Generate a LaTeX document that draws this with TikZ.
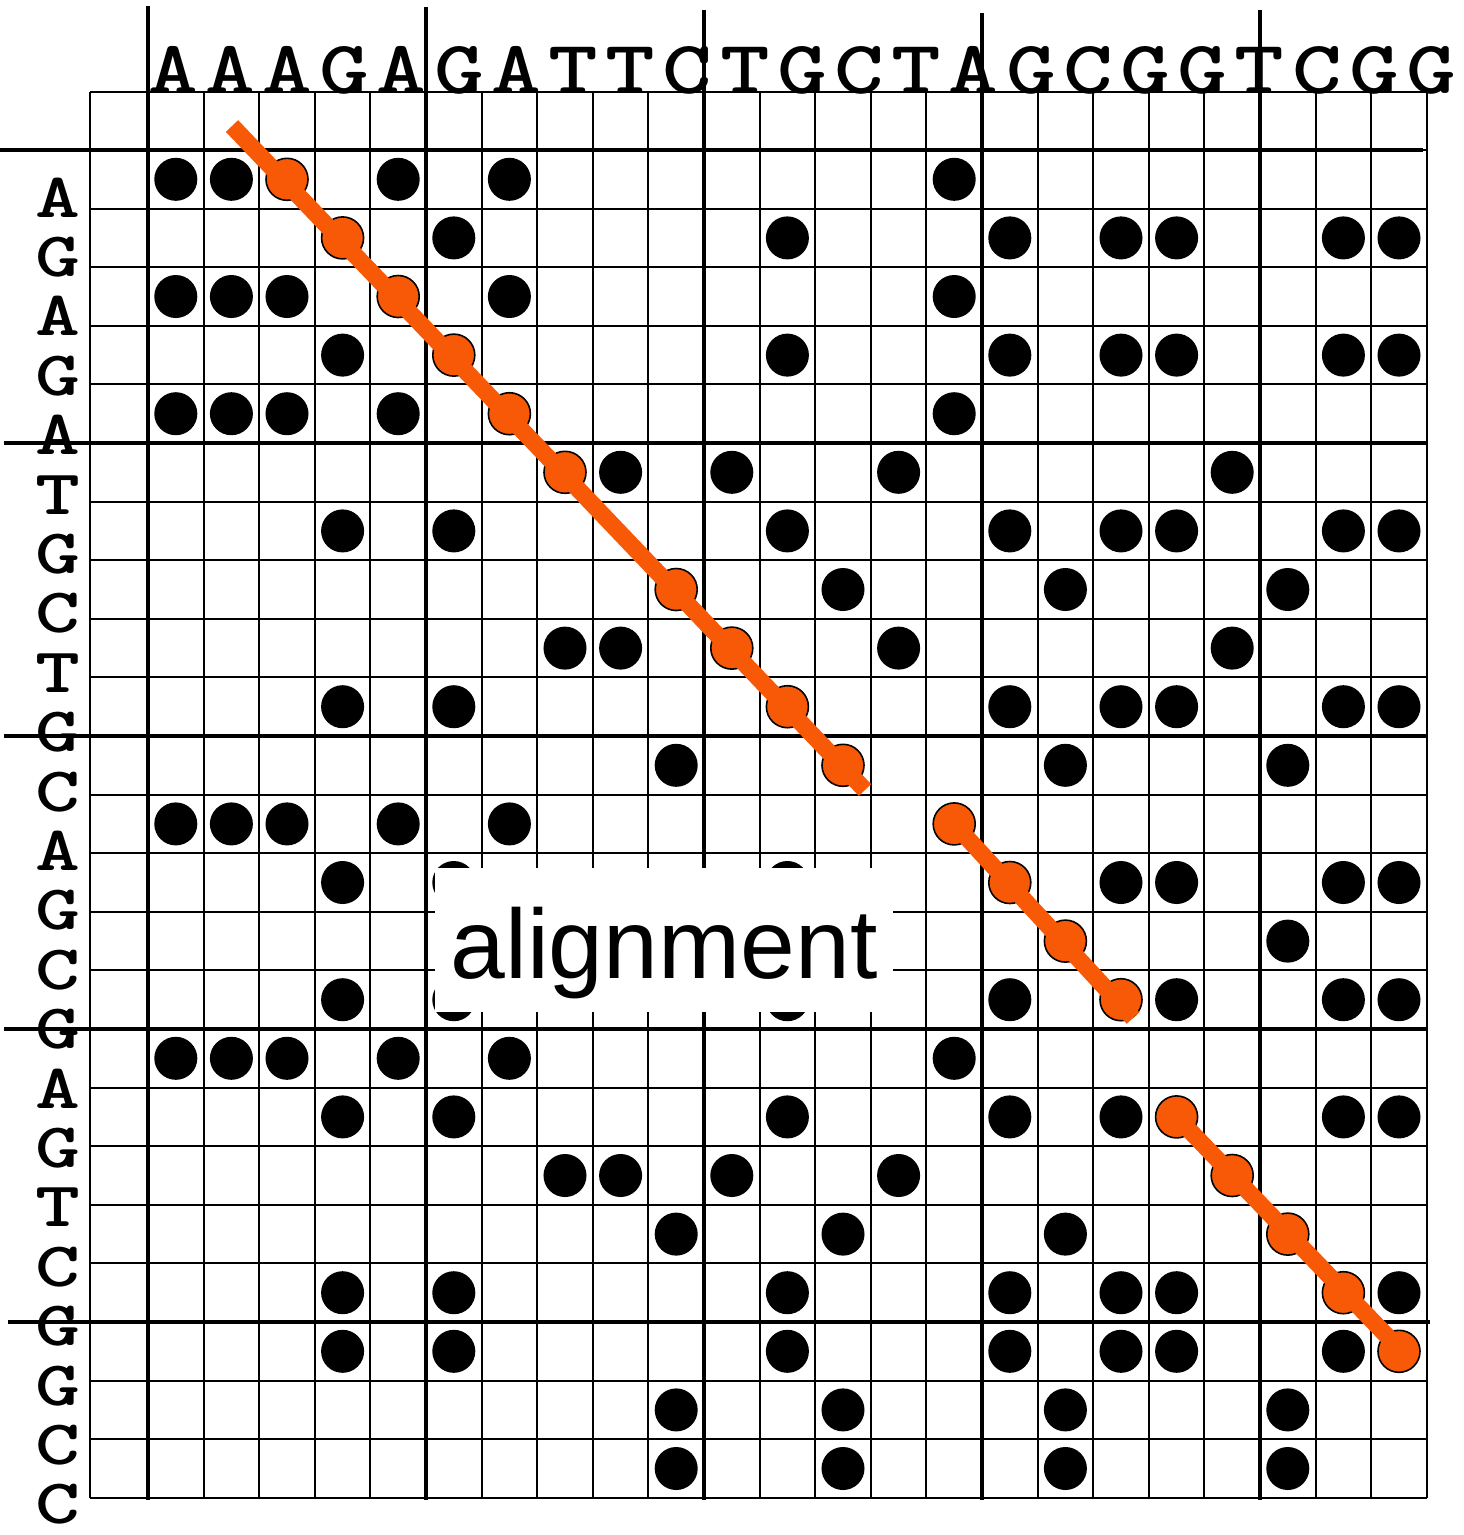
\documentclass[tikz,border=0pt]{standalone}
\usepackage{fontspec}
\newfontfamily\notefont{Liberation Sans}
\definecolor{hitorange}{RGB}{247,89,7}

\begin{document}
\begin{tikzpicture}[
x=0.01cm, y=-0.01cm, thingrid/.style={line width=0.55pt, black}, thickgrid/.style={line width=1.15pt, black}, dot/.style={circle, fill=black, minimum size=0.43cm, inner sep=0pt}, hit/.style={circle, fill=hitorange, draw=black, line width=0.45pt, minimum size=0.42cm, inner sep=0pt}, run/.style={line width=0.17cm, hitorange}, topseq/.style={anchor=base, inner sep=0pt, font=\ttfamily\bfseries\fontsize{21.5}{21.5}\selectfont}, sideseq/.style={anchor=base, inner sep=0pt, font=\ttfamily\bfseries\fontsize{18}{18}\selectfont}, callout/.style={fill=white, inner sep=0pt, minimum width=4.58cm, text height=1.1cm, text depth=0.34cm, font=\notefont\fontsize{28}{28}\selectfont} ]
\useasboundingbox (0,0) rectangle (1464,1535);
\draw[thingrid] (90,92) -- (90,1498);
\draw[thingrid] (90,92) -- (1427,92);
\foreach \k in {0,...,23} \draw[thingrid] ({148+\k*55.6},92) -- ({148+\k*55.6},1498);
\foreach \k in {0,...,23} \draw[thingrid] (90,{150+\k*58.6}) -- (1427,{150+\k*58.6});
\foreach \k/\t in {0/6,5/7,10/10,15/13,20/10} \draw[thickgrid] ({148+\k*55.6},\t) -- ({148+\k*55.6},1500);
\foreach \k/\s/\e in {0/0/1423,5/4/1427,10/4/1427,15/4/1427,20/8/1430} \draw[thickgrid] (\s,{150+\k*58.6}) -- (\e,{150+\k*58.6});
\foreach \a [count=\j] in {A,A,A,G,A,G,A,T,T,C,T,G,C,T,A,G,C,G,G,T,C,G,G} \node[topseq] (top-\j) at ({173+(\j-1)*57.2},93) {\scalebox{1.25}[1]{\a}};
\foreach \b [count=\i] in {A,G,A,G,A,T,G,C,T,G,C,A,G,C,G,A,G,T,C,G,G,C,C} \node[sideseq] (side-\i) at (58,{217+(\i-1)*59.4}) {\scalebox{1.35}[1]{\b}};
\foreach \p in {1-3,2-4,3-5,4-6,5-7,6-8,8-10,9-11,10-12,11-13,12-15,13-16,14-17,15-18,17-19,18-20,19-21,20-22,21-23} {\expandafter\gdef\csname hit-\p\endcsname{}}
\foreach \b [count=\i] in {A,G,A,G,A,T,G,C,T,G,C,A,G,C,G,A,G,T,C,G,G,C,C} {
  \foreach \a [count=\j] in {A,A,A,G,A,G,A,T,T,C,T,G,C,T,A,G,C,G,G,T,C,G,G} {
    \ifx\a\b
      \ifcsname hit-\i-\j\endcsname
        \node[hit] (d-\i-\j) at ({148+(\j-0.5)*55.6},{150+(\i-0.5)*58.6}) {};
      \else
        \node[dot] (d-\i-\j) at ({148+(\j-0.5)*55.6},{150+(\i-0.5)*58.6}) {};
      \fi
    \fi
  }
}
\coordinate (run1a) at (232,126);
\coordinate (run1b) at (865,790);
\coordinate (run2b) at (1133,1018);
\coordinate (run3b) at (1412,1362);
\draw[run] (run1a) -- (run1b);
\draw[run] (d-12-15.center) -- (run2b);
\draw[run] (d-17-19.center) -- (run3b);
\node[callout] (note) at (664,940) {alignment};
\end{tikzpicture}
\end{document}
